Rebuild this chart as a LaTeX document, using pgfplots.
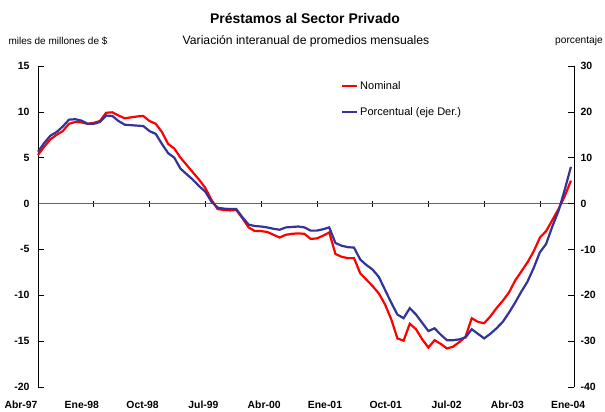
\documentclass[border=0pt]{standalone}
\usepackage{pgfplots}
\pgfplotsset{compat=1.18}
\usepackage{pgfplotstable}
\usepackage{fontspec}
\setmainfont{Liberation Sans}
\definecolor{myred}{RGB}{255,0,0}
\definecolor{myblue}{RGB}{51,51,153}

\pgfplotstableread{
m v
0 5.3
1 6.2
2 7.0
3 7.5
4 7.9
5 8.7
6 8.9
7 8.85
8 8.7
9 8.8
10 9.0
11 9.9
12 9.95
13 9.6
14 9.3
15 9.4
16 9.5
17 9.55
18 9.0
19 8.7
20 7.8
21 6.5
22 6.0
23 5.0
24 4.2
25 3.4
26 2.6
27 1.7
28 0.4
29 -0.6
30 -0.7
31 -0.75
32 -0.7
33 -1.6
34 -2.6
35 -3.0
36 -3.0
37 -3.1
38 -3.4
39 -3.7
40 -3.4
41 -3.3
42 -3.25
43 -3.3
44 -3.85
45 -3.8
46 -3.5
47 -3.15
48 -5.5
49 -5.8
50 -5.95
51 -5.95
52 -7.6
53 -8.3
54 -9.0
55 -9.8
56 -11.0
57 -12.6
58 -14.7
59 -14.95
60 -13.1
61 -13.7
62 -14.8
63 -15.7
64 -14.9
65 -15.3
66 -15.8
67 -15.6
68 -15.1
69 -14.5
70 -12.5
71 -12.9
72 -13.05
73 -12.3
74 -11.4
75 -10.6
76 -9.7
77 -8.4
78 -7.4
79 -6.4
80 -5.2
81 -3.7
82 -3.0
83 -1.8
84 -0.6
85 0.8
86 2.5
}\nominal

\pgfplotstableread{
m p
0 11.3
1 13.2
2 14.8
3 15.6
4 16.8
5 18.3
6 18.4
7 18.1
8 17.4
9 17.4
10 17.8
11 19.2
12 19.1
13 18.0
14 17.2
15 17.1
16 17.0
17 16.9
18 15.8
19 15.2
20 13.0
21 11.0
22 10.0
23 7.6
24 6.4
25 5.2
26 3.8
27 2.6
28 0.4
29 -0.9
30 -1.1
31 -1.2
32 -1.2
33 -3.0
34 -4.6
35 -4.9
36 -5.0
37 -5.2
38 -5.5
39 -5.7
40 -5.2
41 -5.1
42 -5.0
43 -5.2
44 -5.9
45 -5.9
46 -5.6
47 -5.2
48 -8.6
49 -9.2
50 -9.5
51 -9.6
52 -12.2
53 -13.4
54 -14.4
55 -16.0
56 -18.8
57 -21.6
58 -24.2
59 -25.0
60 -22.8
61 -24.2
62 -26.0
63 -27.8
64 -27.2
65 -28.6
66 -29.8
67 -29.8
68 -29.6
69 -29.2
70 -27.4
71 -28.4
72 -29.4
73 -28.4
74 -27.2
75 -25.8
76 -23.8
77 -21.6
78 -19.2
79 -17.0
80 -14.0
81 -10.6
82 -8.8
83 -5.0
84 -1.6
85 3.0
86 8.0
}\porcentual

\begin{document}
\begin{tikzpicture}
\useasboundingbox (-38pt,-25pt) rectangle (567pt,387pt);
\pgfplotsset{
  every axis/.style={
    at={(0,0)}, anchor=south west, scale only axis,
    width=536pt, height=321pt,
    xmin=0, xmax=86.5, clip=false,
    tick label style={font=\bfseries\fontsize{10.5}{12}\selectfont},
    /pgf/number format/assume math mode=true,
    major tick length=6pt,
  }
}
\begin{axis}[
  ymin=-20, ymax=15,
  axis y line=left, axis x line=middle,
  axis line style={-},
  x axis line style={draw=gray!80!black, line width=1.3pt},
  y axis line style={black, line width=0.8pt},
  xtick={0,9,...,81}, xticklabels={},
  xtick align=center,
  x tick style={black, line width=0.6pt},
  ytick={-20,-15,...,15},
  ytick align=inside,
  y tick style={black, line width=0.6pt},
  yticklabel style={xshift=-5pt},
  legend style={at={(rel axis cs:0.565,0.96)}, anchor=north west, draw=none, fill=none,
    font=\fontsize{11}{12}\selectfont, row sep=13pt, inner sep=0pt},
  legend cell align=left,
  legend image code/.code={\draw[#1] (0pt,0pt) -- (15pt,0pt);},
]
\addplot[myred, line width=2.2pt] table[x=m, y=v] {\nominal};
\addlegendentry{Nominal}
\addlegendimage{myblue, line width=2.2pt}
\addlegendentry{Porcentual (eje Der.)}
\end{axis}
\begin{axis}[
  ymin=-40, ymax=30,
  axis y line=right, axis x line=none,
  axis line style={-},
  y axis line style={black, line width=0.8pt},
  ytick={-40,-30,...,30},
  ytick align=inside,
  y tick style={black, line width=0.6pt},
  yticklabel style={xshift=3pt},
]
\addplot[myblue, line width=2.2pt] table[x=m, y=p] {\porcentual};
\end{axis}
\node[font=\bfseries\fontsize{14}{16}\selectfont] at (267pt,369pt) {Préstamos al Sector Privado};
\node[font=\fontsize{12.2}{14}\selectfont] at (268pt,346pt) {Variación interanual de promedios mensuales};
\node[font=\fontsize{10}{12}\selectfont] at (20pt,346pt) {miles de millones de \$};
\node[font=\fontsize{10.2}{12}\selectfont] at (541pt,346pt) {porcentaje};
\foreach \lab [count=\k from 0] in {Abr-97,Ene-98,Oct-98,Jul-99,Abr-00,Ene-01,Oct-01,Jul-02,Abr-03,Ene-04} {
  \node[font=\bfseries\fontsize{10.4}{12}\selectfont] at ({-17pt+60.8pt*\k},-18pt) {\lab};
}
\end{tikzpicture}
\end{document}
